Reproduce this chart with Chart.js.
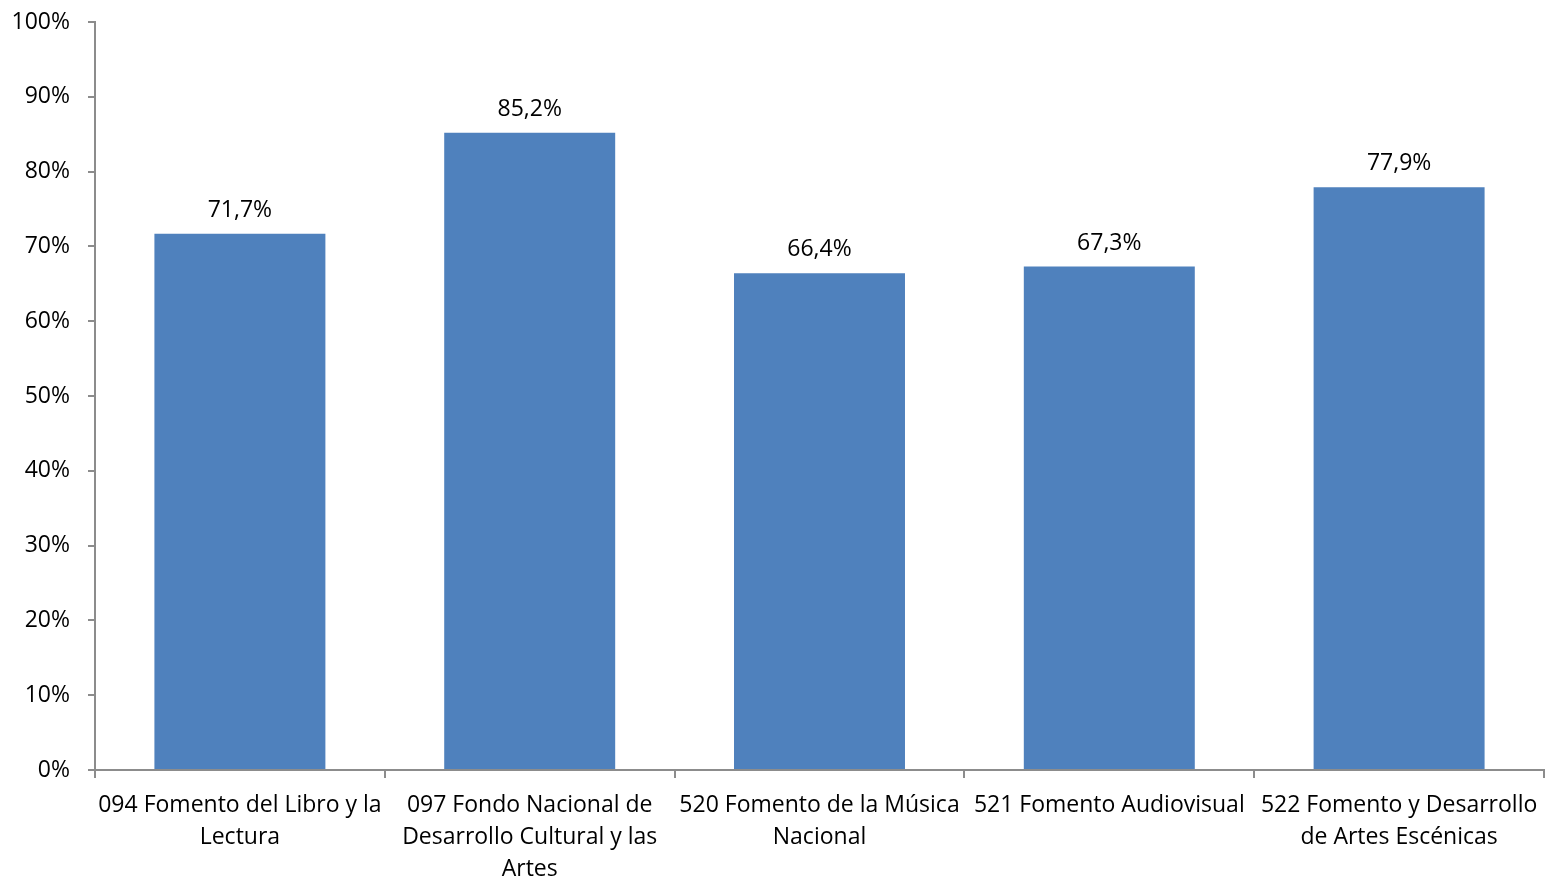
<!DOCTYPE html>
<html>
<head>
<meta charset="utf-8">
<script src="https://cdn.jsdelivr.net/npm/chart.js@4/dist/chart.umd.min.js"></script>
<style>
  body { margin: 0; background: #fff; }
  canvas { display: block; }
</style>
</head>
<body>
<canvas id="barChart" width="1545" height="880"></canvas>
<script>
// categories and values
var categories = [
  ["094 Fomento del Libro y la", "Lectura"],
  ["097 Fondo Nacional de", "Desarrollo Cultural y las", "Artes"],
  ["520 Fomento de la Música", "Nacional"],
  ["521 Fomento Audiovisual"],
  ["522 Fomento y Desarrollo", "de Artes Escénicas"]
];
var values = [71.7, 85.2, 66.4, 67.3, 77.9];
var yTicks = [0, 10, 20, 30, 40, 50, 60, 70, 80, 90, 100];

var fontFamily = "'Open Sans', 'Noto Sans', sans-serif";
var axisGrey = "#8c8c8c";

function pct(v) {
  return v.toFixed(1).replace(".", ",") + "%";
}

// draw the value over each bar
var valueLabels = {
  id: "valueLabels",
  afterDatasetsDraw: function (chart) {
    var ctx = chart.ctx;
    var meta = chart.getDatasetMeta(0);
    ctx.save();
    ctx.font = "23px " + fontFamily;
    ctx.fillStyle = "#000";
    ctx.textAlign = "center";
    ctx.textBaseline = "bottom";
    meta.data.forEach(function (bar, i) {
      ctx.fillText(pct(values[i]), bar.x, bar.y - 12);
    });
    ctx.restore();
  }
};

var ctx = document.getElementById("barChart").getContext("2d");

new Chart(ctx, {
  type: "bar",
  data: {
    labels: categories,
    datasets: [{
      data: values,
      backgroundColor: "#4f81bd",
      categoryPercentage: 1,
      barPercentage: 0.59
    }]
  },
  options: {
    responsive: false,
    animation: false,
    layout: { padding: { top: 22, right: 1, left: 0, bottom: 0 } },
    plugins: {
      legend: { display: false },
      tooltip: { enabled: false }
    },
    scales: {
      x: {
        offset: true,
        grid: {
          offset: true,
          drawOnChartArea: false,
          drawTicks: true,
          tickLength: 8,
          color: axisGrey,
          lineWidth: 2
        },
        border: { color: axisGrey, width: 2 },
        ticks: {
          color: "#000",
          padding: 11,
          maxRotation: 0,
          autoSkip: false,
          font: { family: fontFamily, size: 23, lineHeight: 1.4 }
        },
        afterFit: function (scale) {
          scale.height = 110;
          scale.paddingLeft = 0;
          scale.paddingRight = 0;
        }
      },
      y: {
        min: 0,
        max: 100,
        afterBuildTicks: function (scale) {
          scale.ticks = yTicks.map(function (v) { return { value: v }; });
        },
        grid: {
          drawOnChartArea: false,
          drawTicks: true,
          tickLength: 7,
          color: axisGrey,
          lineWidth: 2
        },
        border: { color: axisGrey, width: 2 },
        ticks: {
          color: "#000",
          padding: 18,
          font: { family: fontFamily, size: 23 },
          callback: function (v) { return v + "%"; }
        },
        afterFit: function (scale) {
          scale.width = 95;
          scale.paddingTop = 0;
          scale.paddingBottom = 0;
        }
      }
    }
  },
  plugins: [valueLabels]
});
</script>
</body>
</html>
